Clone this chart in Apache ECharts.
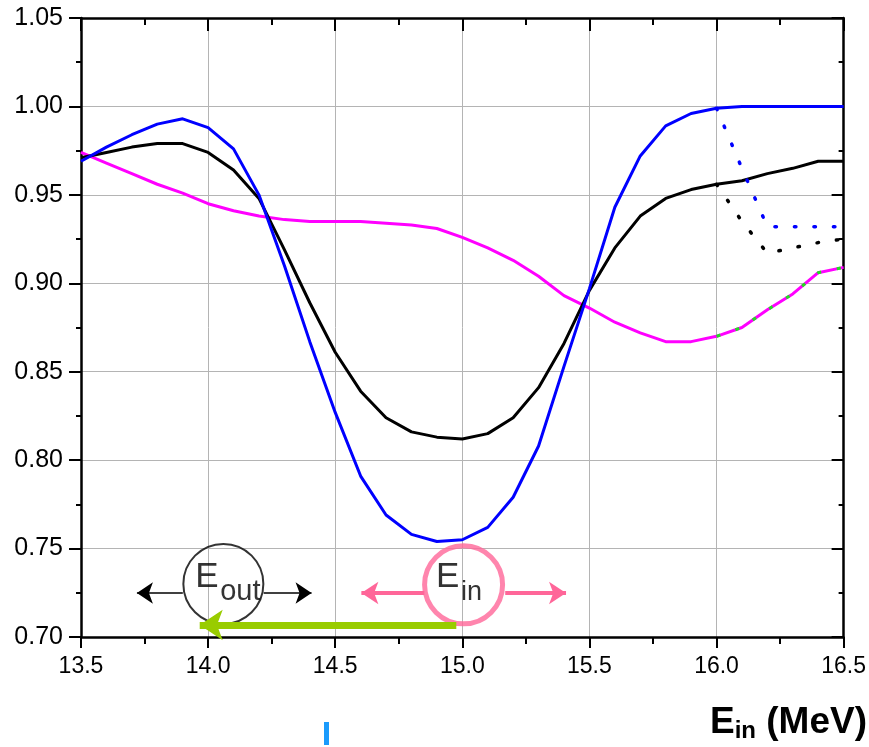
<!DOCTYPE html>
<html>
<head>
<meta charset="utf-8">
<script src="https://cdn.jsdelivr.net/npm/echarts@6/dist/echarts.min.js"></script>
<style>
html,body{margin:0;padding:0;background:#fff;}
#chart{width:869px;height:747px;}
</style>
</head>
<body>
<div id="chart"></div>
<script>
// ---- data ----
const energies = [13.5,13.6,13.7,13.8,13.9,14.0,14.1,14.2,14.3,14.4,14.5,14.6,14.7,14.8,14.9,15.0,15.1,15.2,15.3,15.4,15.5,15.6,15.7,15.8,15.9,16.0,16.1,16.2,16.3,16.4,16.5];
const blueValues = [0.969,0.977,0.984,0.990,0.993,0.988,0.976,0.950,0.910,0.867,0.827,0.791,0.769,0.758,0.754,0.755,0.762,0.779,0.808,0.853,0.897,0.943,0.972,0.989,0.996,0.999,1.000,1.000,1.000,1.000,1.000];
const blackValues = [0.971,0.974,0.977,0.979,0.979,0.974,0.964,0.948,0.919,0.889,0.861,0.839,0.824,0.816,0.813,0.812,0.815,0.824,0.841,0.866,0.896,0.920,0.938,0.948,0.953,0.956,0.958,0.962,0.965,0.969,0.969];
const magentaValues = [0.974,0.968,0.962,0.956,0.951,0.945,0.941,0.938,0.936,0.935,0.935,0.935,0.934,0.933,0.931,0.926,0.920,0.913,0.904,0.893,0.886,0.878,0.872,0.867,0.867,0.870,0.875,0.885,0.894,0.906,0.909];
const tailEnergies = [16.0,16.1,16.2,16.3,16.4,16.5];
const blueDotted = [0.999,0.965,0.932,0.932,0.932,0.932];
const blackDotted = [0.956,0.935,0.917,0.920,0.923,0.925];
const xTicks = [13.5,14.0,14.5,15.0,15.5,16.0,16.5];
const yTicks = [0.70,0.75,0.80,0.85,0.90,0.95,1.00,1.05];

// annotation anchors (data units)
const eoutCircle = [14.06, 0.730];
const einCircle = [15.005, 0.7295];
const blackArrows = [[13.9005,0.7249,13.720,0.7249],[14.2186,0.7249,14.407,0.7249]];
const pinkArrows = [[14.8508,0.7249,14.603,0.7249],[15.1688,0.7249,15.408,0.7249]];
const greenArrows = [[14.9764,0.7068,13.967,0.7068]];

const pairs = (xs, ys) => xs.map((x, i) => [x, ys[i]]);
const tailStart = energies.indexOf(16.0);
const greenTail = pairs(energies.slice(tailStart), magentaValues.slice(tailStart));
const arrowData = arr => arr.map(a => ({coords: [[a[0], a[1]], [a[2], a[3]]]}));

const FONT = 'Liberation Sans';
const chart = echarts.init(document.getElementById('chart'), null, {renderer: 'canvas'});

const axisLineStyle = {color: '#000', width: 2.5};
const tickStyle = {color: '#000', width: 2};

function textSeries(point, text, size, offset, z) {
  return {
    type: 'scatter', z: z, symbol: 'circle', symbolSize: 1, silent: true,
    itemStyle: {color: 'rgba(0,0,0,0)'},
    data: [point],
    label: {show: true, position: 'inside', formatter: text, offset: offset,
      fontSize: size, fontFamily: FONT, color: '#000', textBorderWidth: 0},
    emphasis: {disabled: true}
  };
}

chart.setOption({
  animation: false,
  backgroundColor: '#fff',
  grid: {left: 81, right: 24, top: 18, bottom: 110, containLabel: false},
  title: {
    text: '{e|E}{s|in}{m| (MeV)}',
    right: 2, top: 703, padding: 0,
    textStyle: {
      rich: {
        e: {fontSize: 37, fontWeight: 'bold', fontFamily: FONT, color: '#000', lineHeight: 40},
        s: {fontSize: 24, fontWeight: 'bold', fontFamily: FONT, color: '#000', lineHeight: 10, verticalAlign: 'bottom'},
        m: {fontSize: 37, fontWeight: 'bold', fontFamily: FONT, color: '#000', lineHeight: 40}
      }
    }
  },
  graphic: [
    {type: 'rect', shape: {x: 324, y: 722, width: 5, height: 23}, style: {fill: '#1a9bfc'}, silent: true}
  ],
  xAxis: [
    {
      type: 'value', position: 'bottom', min: 13.5, max: 16.5, interval: 0.5,
      axisLine: {onZero: false, lineStyle: axisLineStyle},
      axisTick: {show: true, length: 11, lineStyle: tickStyle},
      minorTick: {show: true, splitNumber: 2, length: 7, lineStyle: tickStyle},
      axisLabel: {fontSize: 23, color: '#000', fontFamily: FONT, margin: 18,
        formatter: v => xTicks.find(t => Math.abs(t - v) < 1e-6) !== undefined ? v.toFixed(1) : ''},
      splitLine: {show: true, lineStyle: {color: '#b4b4b4', width: 1}}
    },
    {
      type: 'value', position: 'top', min: 13.5, max: 16.5, interval: 0.5,
      axisLine: {onZero: false, lineStyle: axisLineStyle},
      axisTick: {show: true, inside: true, length: 13, lineStyle: tickStyle},
      minorTick: {show: true, splitNumber: 2, length: 7, lineStyle: tickStyle},
      axisLabel: {show: false},
      splitLine: {show: false}
    }
  ],
  yAxis: [
    {
      type: 'value', position: 'left', min: 0.70, max: 1.05, interval: 0.05,
      axisLine: {onZero: false, lineStyle: axisLineStyle},
      axisTick: {show: true, length: 12, lineStyle: tickStyle},
      minorTick: {show: true, splitNumber: 2, length: 5, lineStyle: tickStyle},
      axisLabel: {fontSize: 25, color: '#000', fontFamily: FONT, margin: 18,
        formatter: v => yTicks.find(t => Math.abs(t - v) < 1e-6) !== undefined ? v.toFixed(2) : ''},
      splitLine: {show: true, lineStyle: {color: '#b4b4b4', width: 1}}
    },
    {
      type: 'value', position: 'right', min: 0.70, max: 1.05, interval: 0.05,
      axisLine: {onZero: false, lineStyle: axisLineStyle},
      axisTick: {show: true, inside: true, length: 12, lineStyle: tickStyle},
      minorTick: {show: true, splitNumber: 2, length: 5, lineStyle: tickStyle},
      axisLabel: {show: false},
      splitLine: {show: false}
    }
  ],
  series: [
    {type: 'line', name: 'magenta', data: pairs(energies, magentaValues), showSymbol: false, symbol: 'none',
      lineStyle: {color: '#ff00ff', width: 3}, z: 3},
    {type: 'line', name: 'greenDash', data: greenTail, showSymbol: false, symbol: 'none',
      lineStyle: {color: '#22dd22', width: 3, type: [4, 16]}, z: 4},
    {type: 'line', name: 'black', data: pairs(energies, blackValues), showSymbol: false, symbol: 'none',
      lineStyle: {color: '#000000', width: 3}, z: 3},
    {type: 'line', name: 'blackDotted', data: pairs(tailEnergies, blackDotted), showSymbol: false, symbol: 'none',
      lineStyle: {color: '#000000', width: 3.5, type: [1.5, 18], cap: 'round'}, z: 3},
    {type: 'line', name: 'blue', data: pairs(energies, blueValues), showSymbol: false, symbol: 'none',
      lineStyle: {color: '#0000ff', width: 3}, z: 3},
    {type: 'line', name: 'blueDotted', data: pairs(tailEnergies, blueDotted), showSymbol: false, symbol: 'none',
      lineStyle: {color: '#0000ff', width: 3.5, type: [1.5, 18], cap: 'round'}, z: 3},
    {type: 'lines', coordinateSystem: 'cartesian2d', data: arrowData(blackArrows),
      symbol: ['none', 'arrow'], symbolSize: [14, 16],
      lineStyle: {color: '#000', width: 1.5, opacity: 1, curveness: 0}, z: 5},
    {type: 'lines', coordinateSystem: 'cartesian2d', data: arrowData(pinkArrows),
      symbol: ['none', 'arrow'], symbolSize: [18, 17],
      lineStyle: {color: '#ff6699', width: 4, opacity: 1, curveness: 0}, z: 5},
    {
      type: 'scatter', name: 'circles', z: 6, silent: true,
      data: [
        {value: eoutCircle, symbolSize: 80,
          itemStyle: {color: 'rgba(0,0,0,0)', borderColor: '#000', borderWidth: 2}},
        {value: einCircle, symbolSize: 78,
          itemStyle: {color: 'rgba(0,0,0,0)', borderColor: '#ff6699', borderWidth: 5}}
      ],
      emphasis: {disabled: true}
    },
    textSeries(eoutCircle, 'E', 35, [-16.5, -6.5], 8),
    textSeries(eoutCircle, 'out', 29, [17, 8], 8),
    textSeries(einCircle, 'E', 35, [-16, -7.5], 8),
    textSeries(einCircle, 'in', 27, [8, 7.5], 8),
    {type: 'lines', coordinateSystem: 'cartesian2d', data: arrowData(greenArrows),
      symbol: ['none', 'arrow'], symbolSize: [24, 23],
      lineStyle: {color: '#99cc00', width: 7, opacity: 1, curveness: 0}, z: 7}
  ]
});
</script>
</body>
</html>
